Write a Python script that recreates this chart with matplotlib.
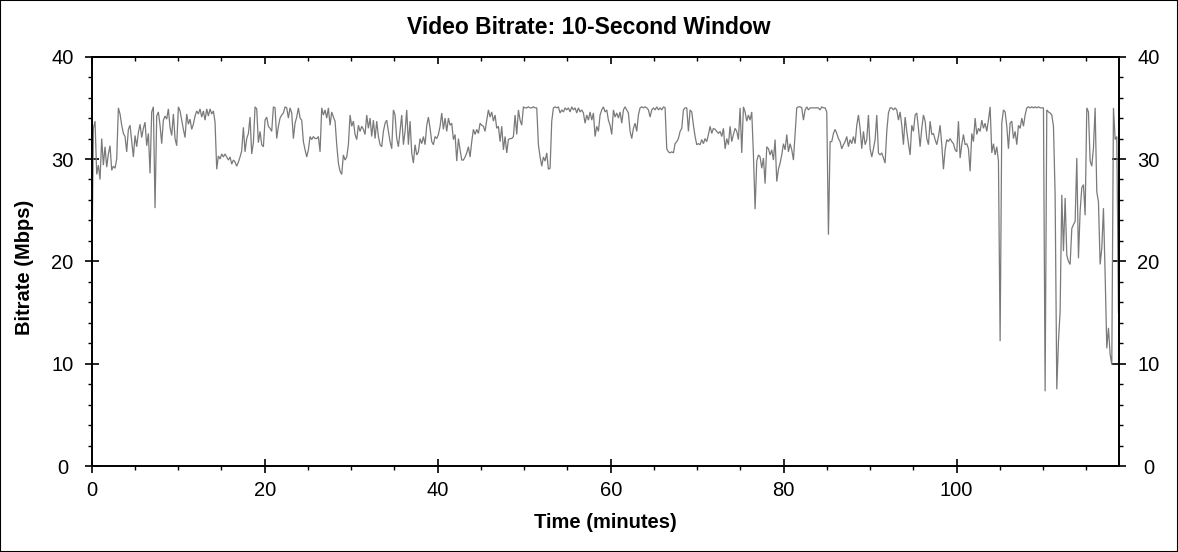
import numpy as np
import matplotlib
matplotlib.use("Agg")
import matplotlib.pyplot as plt
from matplotlib.ticker import MultipleLocator, FixedLocator
from matplotlib.patches import Rectangle

title = "Video Bitrate: 10-Second Window"
x_label = "Time (minutes)"
y_label = "Bitrate (Mbps)"
x_ticks = [0, 20, 40, 60, 80, 100]
y_ticks = [0, 10, 20, 30, 40]
x_max_min = 118.8
sample_step_min = 0.1927

# 10-second window bitrate samples (Mbps)
bitrate_part1 = [
    17.5, 33.0, 33.7, 28.5, 29.4, 28.0, 32.0, 29.4, 31.2, 29.2,
    30.5, 31.3, 28.9, 29.3, 29.1, 30.0, 35.0, 34.4, 33.3, 32.5,
    32.2, 30.7, 32.9, 33.3, 31.8, 30.2, 32.3, 31.2, 32.6, 33.4,
    32.1, 33.0, 33.6, 31.3, 32.5, 28.6, 34.6, 35.1, 25.2, 34.2,
    34.6, 33.3, 31.5, 33.8, 34.2, 33.9, 34.9, 33.1, 32.3, 34.4,
    32.0, 31.3, 35.1, 34.7, 33.8, 32.9, 32.1, 34.4, 33.4, 33.9,
    32.9, 33.4, 34.2, 34.7, 34.4, 34.9, 34.1, 34.7, 33.8, 34.9,
    34.2, 34.9, 34.4, 34.7, 33.6, 29.0, 30.3, 30.0, 30.5, 30.2,
    30.5, 30.2, 29.9, 30.2, 29.5, 29.9, 29.7, 29.3, 29.7, 30.2,
    30.8, 33.1, 30.7, 32.0, 32.5, 34.1, 30.5, 31.6, 35.1, 34.9,
    31.6,
]
bitrate_part2 = [
    32.7, 31.4, 31.2, 33.8, 34.1, 33.2, 33.0, 32.7, 35.1, 35.0,
    32.0, 33.2, 34.0, 34.3, 34.5, 35.1, 35.0, 34.0, 35.0, 34.5,
    32.0, 33.5, 34.1, 35.0, 34.0, 33.8, 31.7, 30.9, 30.2, 30.9,
    32.2, 31.9, 32.2, 32.0, 32.0, 32.2, 30.7, 35.0, 34.3, 34.8,
    34.0, 35.0, 33.3, 34.6, 34.1, 33.7, 31.4, 29.6, 28.8, 28.5,
    30.4, 29.9, 30.2, 31.4, 34.3, 33.2, 33.7, 32.4, 31.9, 33.3,
    32.7, 33.2, 32.9, 32.4, 34.3, 33.0, 34.0, 32.2, 33.8, 32.0,
    33.7, 32.2, 31.4, 31.2, 32.7, 33.5, 33.8, 32.7, 31.7, 31.0,
    34.8, 34.3, 32.0, 31.2, 32.7, 34.3, 31.4, 32.7, 34.8, 31.4,
    33.7, 30.6, 29.6, 31.4, 30.4, 30.7, 32.0, 31.5, 32.2, 31.4,
    33.3, 34.1, 33.0, 31.7, 31.4, 32.2,
]
bitrate_part3 = [
    32.0, 32.4, 33.2, 34.5, 32.9, 34.0, 32.7, 34.0, 33.3, 33.5,
    31.9, 32.4, 29.8, 32.0, 30.9, 29.9, 29.9, 30.2, 30.6, 31.2,
    30.2, 31.7, 32.9, 32.4, 32.9, 32.5, 33.5, 33.3, 33.2, 32.7,
    33.8, 34.8, 34.1, 34.6, 33.7, 34.3, 33.0, 33.2, 31.7, 33.2,
    30.9, 32.2, 30.6, 31.9, 32.0, 32.0, 32.2, 34.3, 32.4, 34.8,
    33.8, 33.3, 35.1, 35.0, 35.0, 35.1, 35.0, 35.0, 35.1, 35.0,
    35.0, 31.4, 30.2, 29.3, 30.2, 29.8, 30.6, 29.0, 29.1, 33.7,
    35.0, 35.1, 35.0, 35.1, 34.5, 34.8, 34.6, 35.0, 34.8, 35.0,
    34.6, 35.1, 34.8, 35.0, 34.5, 35.0, 34.6, 34.8, 34.5, 33.5,
    34.3, 33.8, 34.6, 33.8, 34.5, 32.2, 33.2, 32.7, 34.3, 34.8,
    35.1, 34.6, 34.8, 33.8,
]
bitrate_part4 = [
    33.3, 32.4, 34.8, 34.1, 34.5, 34.0, 34.6, 33.5, 34.8, 35.1,
    34.8, 34.5, 32.7, 32.0, 33.0, 33.5, 32.7, 34.3, 35.0, 35.1,
    35.0, 35.1, 35.0, 34.8, 34.1, 34.8, 35.0, 34.8, 35.1, 34.8,
    35.0, 34.8, 35.1, 35.0, 31.0, 30.7, 30.6, 30.7, 30.6, 31.5,
    31.7, 32.0, 32.7, 33.0, 34.8, 35.0, 35.0, 32.7, 34.8, 34.6,
    33.3, 32.2, 31.4, 31.5, 31.4, 31.9, 31.5, 32.0, 31.7, 32.4,
    33.2, 32.5, 33.0, 32.9, 32.7, 32.5, 32.7, 32.2, 33.0, 31.0,
    32.0, 31.4, 33.2, 31.7, 32.4, 33.0, 32.7, 31.9, 35.0, 30.6,
    35.1, 34.6, 33.7, 34.3, 33.8, 34.6, 30.4, 25.1, 29.8, 30.4,
    30.2, 29.1, 30.1, 27.6, 31.2, 31.0, 30.4, 30.9, 29.9, 31.9,
    27.8, 29.0, 29.6, 30.4, 31.5,
]
bitrate_part5 = [
    30.9, 32.4, 30.7, 31.5, 30.9, 29.9, 32.4, 35.0, 35.1, 35.1,
    35.0, 33.8, 34.8, 35.1, 34.8, 35.0, 35.0, 35.0, 35.0, 35.0,
    35.0, 34.8, 35.1, 35.0, 35.0, 34.6, 22.6, 31.7, 31.7, 32.5,
    32.9, 32.5, 32.0, 31.7, 31.0, 31.4, 31.7, 32.2, 31.2, 31.9,
    31.5, 32.2, 31.5, 33.3, 34.3, 33.0, 31.0, 32.7, 31.4, 31.9,
    34.3, 31.0, 30.2, 31.0, 31.9, 34.3, 30.6, 30.4, 30.6, 30.1,
    29.6, 32.7, 34.5, 35.0, 35.0, 34.8, 35.0, 34.8, 33.8, 34.6,
    33.3, 31.4, 34.1, 32.7, 31.5, 30.4, 33.3, 32.7, 34.3, 34.5,
    33.0, 31.2, 33.0, 34.3, 33.7, 32.0, 31.4, 33.7, 32.4, 32.5,
    31.9, 31.4, 32.2, 33.3, 31.4, 29.0, 30.9, 31.9, 31.7, 32.0,
    31.7, 31.5, 30.9, 30.7, 33.7,
]
bitrate_part6 = [
    30.1, 31.4, 32.4, 31.4, 31.5, 31.0, 28.8, 32.5, 31.7, 34.0,
    32.4, 33.0, 32.7, 33.8, 33.0, 33.5, 32.7, 33.8, 35.1, 30.6,
    31.5, 30.4, 31.2, 29.8, 12.2, 33.5, 34.8, 34.6, 33.2, 31.0,
    33.5, 33.7, 32.0, 32.7, 31.4, 33.3, 33.0, 34.0, 33.2, 34.3,
    35.0, 35.1, 35.0, 35.1, 35.0, 35.1, 35.0, 35.1, 35.0, 35.0,
    35.0, 7.3, 34.8, 34.6, 34.5, 34.3, 33.2, 26.5, 7.5, 12.2,
    15.1, 26.5, 21.0, 26.2, 20.6, 20.0, 19.7, 23.2, 23.6, 23.9,
    30.1, 20.3, 24.9, 27.2, 27.5, 24.5, 35.0, 34.6, 29.8, 29.3,
    31.1, 35.0, 26.8, 25.8, 19.7, 21.3, 25.2, 18.7, 11.5, 13.5,
    10.9, 9.9, 35.0, 31.9, 32.2, 15.0,
]
bitrate_mbps = (bitrate_part1 + bitrate_part2 + bitrate_part3 +
                bitrate_part4 + bitrate_part5 + bitrate_part6)

plt.rcParams["font.family"] = ["Liberation Sans", "DejaVu Sans"]

W, H = 1178, 552
fig = plt.figure(figsize=(W / 100, H / 100), dpi=100)
left, right, top, bottom = 91.7, 1119.3, 56.7, 466.0
ax = fig.add_axes([left / W, 1 - bottom / H, (right - left) / W, (bottom - top) / H])

minutes = np.arange(len(bitrate_mbps)) * sample_step_min
ax.plot(minutes, bitrate_mbps, color="#7a7a7a", lw=0.9, solid_joinstyle="miter")

ax.set_xlim(0, x_max_min)
ax.set_ylim(0, 40)
ax.xaxis.set_major_locator(FixedLocator(x_ticks))
ax.yaxis.set_major_locator(FixedLocator(y_ticks))
ax.xaxis.set_minor_locator(MultipleLocator(5))
ax.yaxis.set_minor_locator(MultipleLocator(2))

for s in ax.spines.values():
    s.set_linewidth(1.4)

ax.tick_params(axis="both", which="major", direction="inout", length=10, width=1.2,
               labelsize=14.5, colors="black")
ax.tick_params(axis="both", which="minor", direction="out", length=3, width=1.0)
ax.tick_params(axis="y", which="both", left=True, right=True,
               labelleft=True, labelright=True, pad=16)
ax.tick_params(axis="x", which="both", top=False, pad=6)
for t in ax.yaxis.get_major_ticks():
    t.label1.set_horizontalalignment("center")
    t.label2.set_horizontalalignment("center")

sec = ax.secondary_xaxis("top")
sec.xaxis.set_major_locator(FixedLocator(x_ticks))
sec.xaxis.set_minor_locator(MultipleLocator(5))
sec.tick_params(which="major", direction="in", length=5, width=1.2, labeltop=False)
sec.tick_params(which="minor", direction="in", length=3, width=1.0)
sec.spines["top"].set_linewidth(1.4)

fig.text(0.5, 1 - 27 / H, title, ha="center", va="center",
         fontsize=16.5, fontweight="bold")
fig.text((left + right) / 2 / W, 1 - 523 / H, x_label, ha="center", va="center",
         fontsize=14.5, fontweight="bold")
fig.text(25 / W, 1 - 267 / H, y_label, ha="center", va="center", rotation=90,
         fontsize=14.5, fontweight="bold")

fig.patches.append(Rectangle((0, 0), 1, 1, transform=fig.transFigure, fill=False,
                             edgecolor="black", linewidth=1.5))

fig.savefig("out.png", dpi=100)
